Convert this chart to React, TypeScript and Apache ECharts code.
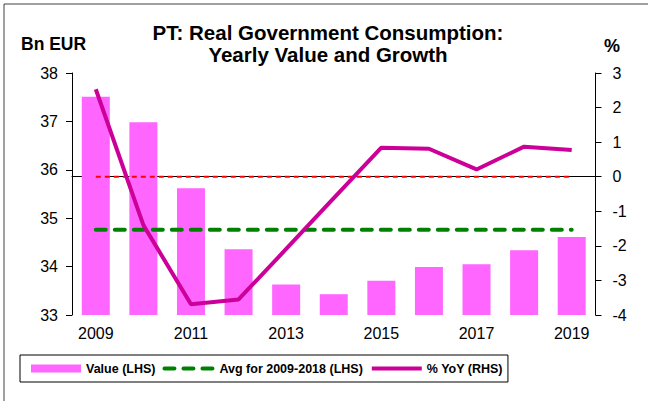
import React, { useEffect, useRef } from "react";
import * as echarts from "echarts";

const years = ["2009", "2010", "2011", "2012", "2013", "2014", "2015", "2016", "2017", "2018", "2019"];
const valueBn = [37.51, 36.98, 35.62, 34.36, 33.63, 33.43, 33.71, 33.99, 34.05, 34.34, 34.61];
const avg2009to2018 = 34.76;
const yoyPct = [2.53, -1.4, -3.69, -3.55, -2.09, -0.62, 0.84, 0.81, 0.21, 0.87, 0.77];
const zeroLine = 0;

const FONT = "'Liberation Sans', Arial, sans-serif";

export default function App() {
  const ref = useRef<HTMLDivElement>(null);
  useEffect(() => {
    if (!ref.current) return;
    const chart = echarts.init(ref.current, null, { renderer: "svg" });
    chart.setOption({
      animation: false,
      backgroundColor: "#ffffff",
      textStyle: { fontFamily: FONT },
      title: {
        text: "PT: Real Government Consumption:\nYearly Value and Growth",
        left: 323,
        textAlign: "center",
        top: 16,
        textStyle: { fontFamily: FONT, fontSize: 20.5, fontWeight: "bold", color: "#000", lineHeight: 22 },
      },
      graphic: [
        { type: "line", shape: { x1: 4, y1: 4, x2: 648, y2: 4 }, style: { stroke: "#808080", lineWidth: 1.5 } },
        { type: "line", shape: { x1: 4, y1: 4, x2: 4, y2: 401 }, style: { stroke: "#404040", lineWidth: 1 } },
        {
          type: "text",
          left: 21,
          top: 35,
          style: { text: "Bn EUR", font: `bold 17.5px ${FONT}`, fill: "#000" },
        },
        {
          type: "text",
          left: 604,
          top: 37,
          style: { text: "%", font: `bold 18px ${FONT}`, fill: "#000" },
        },
      ],
      legend: {
        left: 20,
        top: 355,
        padding: [7, 5, 7, 11],
        borderColor: "#000",
        borderWidth: 1,
        itemWidth: 50,
        itemHeight: 8,
        itemGap: 7,
        textStyle: { fontFamily: FONT, fontSize: 12.5, fontWeight: "bold", color: "#000" },
        data: [
          { name: "Value (LHS)", icon: "rect" },
          {
            name: "Avg for 2009-2018 (LHS)",
            itemStyle: { opacity: 0 },
            lineStyle: { width: 4, color: "#008000", type: [10, 9], cap: "round" },
          },
          {
            name: "% YoY (RHS)",
            itemStyle: { opacity: 0 },
            lineStyle: { width: 4, color: "#CC0099" },
          },
        ],
      },
      grid: { left: 72, right: 52.5, top: 73, bottom: 86 },
      xAxis: {
        type: "category",
        data: years,
        boundaryGap: true,
        axisLine: { lineStyle: { color: "#000", width: 1 } },
        axisTick: { interval: 0, length: 6, lineStyle: { color: "#000" } },
        axisLabel: { interval: 1, fontSize: 16, color: "#000", margin: 10, fontFamily: FONT },
        splitLine: { show: false },
      },
      yAxis: [
        {
          type: "value",
          min: 33,
          max: 38,
          interval: 1,
          axisLine: { show: true, lineStyle: { color: "#000" } },
          axisTick: { show: true, length: 6, lineStyle: { color: "#000" } },
          axisLabel: { fontSize: 16, color: "#000", margin: 14, fontFamily: FONT },
          splitLine: { show: false },
        },
        {
          type: "value",
          min: -4,
          max: 3,
          interval: 1,
          position: "right",
          axisLine: { show: true, lineStyle: { color: "#000" } },
          axisTick: { show: true, length: 6, lineStyle: { color: "#000" } },
          axisLabel: { fontSize: 16, color: "#000", margin: 17, fontFamily: FONT },
          splitLine: { show: false },
        },
      ],
      series: [
        {
          name: "Value (LHS)",
          type: "bar",
          yAxisIndex: 0,
          data: valueBn,
          barWidth: 28,
          itemStyle: { color: "#FF66FF" },
        },
        {
          name: "zero",
          type: "line",
          yAxisIndex: 1,
          data: years.map(() => zeroLine),
          symbol: "none",
          lineStyle: { color: "#FF0000", width: 2, type: [5, 4] },
          z: 3,
          silent: true,
        },
        {
          name: "Avg for 2009-2018 (LHS)",
          type: "line",
          yAxisIndex: 0,
          data: years.map(() => avg2009to2018),
          symbol: "none",
          lineStyle: { color: "#008000", width: 4, type: [10, 9], cap: "round" },
          itemStyle: { color: "#008000" },
          z: 4,
        },
        {
          name: "% YoY (RHS)",
          type: "line",
          yAxisIndex: 1,
          data: yoyPct,
          symbol: "none",
          lineStyle: { color: "#CC0099", width: 4 },
          itemStyle: { color: "#CC0099" },
          z: 5,
        },
      ],
    });
    return () => chart.dispose();
  }, []);
  return <div ref={ref} style={{ width: 648, height: 401, position: "absolute", left: 0, top: 0 }} />;
}
